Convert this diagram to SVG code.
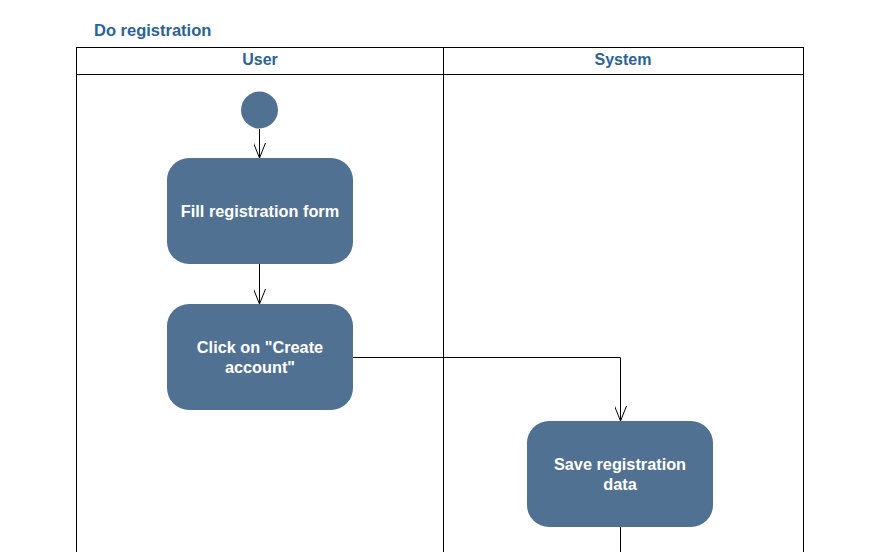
<svg xmlns="http://www.w3.org/2000/svg" width="875" height="552" viewBox="0 0 875 552">
<defs>
<style>
.t{font-family:"Liberation Sans",Arial,sans-serif;font-weight:bold;fill:#2a6496}
.n{fill:#517193}
.nt{font-family:"Liberation Sans",Arial,sans-serif;font-weight:bold;font-size:16.3px;fill:#fff;text-anchor:middle}
.ln{stroke:#000;stroke-width:1;fill:none}
</style>
<marker id="ar" viewBox="0 0 16 12" refX="15" refY="6" markerWidth="16" markerHeight="12" markerUnits="userSpaceOnUse" orient="auto">
<path d="M0,0 L15,6 L0,12" fill="none" stroke="#000" stroke-width="1"/>
</marker>
</defs>
<rect width="875" height="552" fill="#fff"/>
<text class="t" x="94" y="36" font-size="16.5">Do registration</text>
<g id="pool">
<rect x="76.5" y="47.5" width="727" height="520" fill="none" stroke="#000"/>
<line x1="76.5" y1="74.5" x2="803.5" y2="74.5" stroke="#000"/>
<line x1="443.5" y1="47.5" x2="443.5" y2="552" stroke="#000"/>
<text class="t" x="260" y="65" font-size="16" text-anchor="middle">User</text>
<text class="t" x="623" y="65" font-size="16" text-anchor="middle">System</text>
</g>
<g id="connectors">
<line class="ln" x1="259.5" y1="129" x2="259.5" y2="158" marker-end="url(#ar)"/>
<line class="ln" x1="259.5" y1="264" x2="259.5" y2="304" marker-end="url(#ar)"/>
<polyline class="ln" points="353,357.5 620.5,357.5 620.5,421" marker-end="url(#ar)"/>
<line class="ln" x1="620.5" y1="527" x2="620.5" y2="552"/>
</g>
<g id="start"><circle class="n" cx="259.5" cy="110" r="18.5"/></g>
<g id="fill-form">
<rect class="n" x="167" y="158" width="186" height="106" rx="22"/>
<text class="nt" x="260" y="217">Fill registration form</text>
</g>
<g id="click-create">
<rect class="n" x="167" y="304" width="186" height="106" rx="22"/>
<text class="nt" x="260" y="353">Click on "Create</text>
<text class="nt" x="260" y="373">account"</text>
</g>
<g id="save-data">
<rect class="n" x="527" y="421" width="186" height="106" rx="22"/>
<text class="nt" x="620" y="470">Save registration</text>
<text class="nt" x="620" y="490">data</text>
</g>
</svg>
